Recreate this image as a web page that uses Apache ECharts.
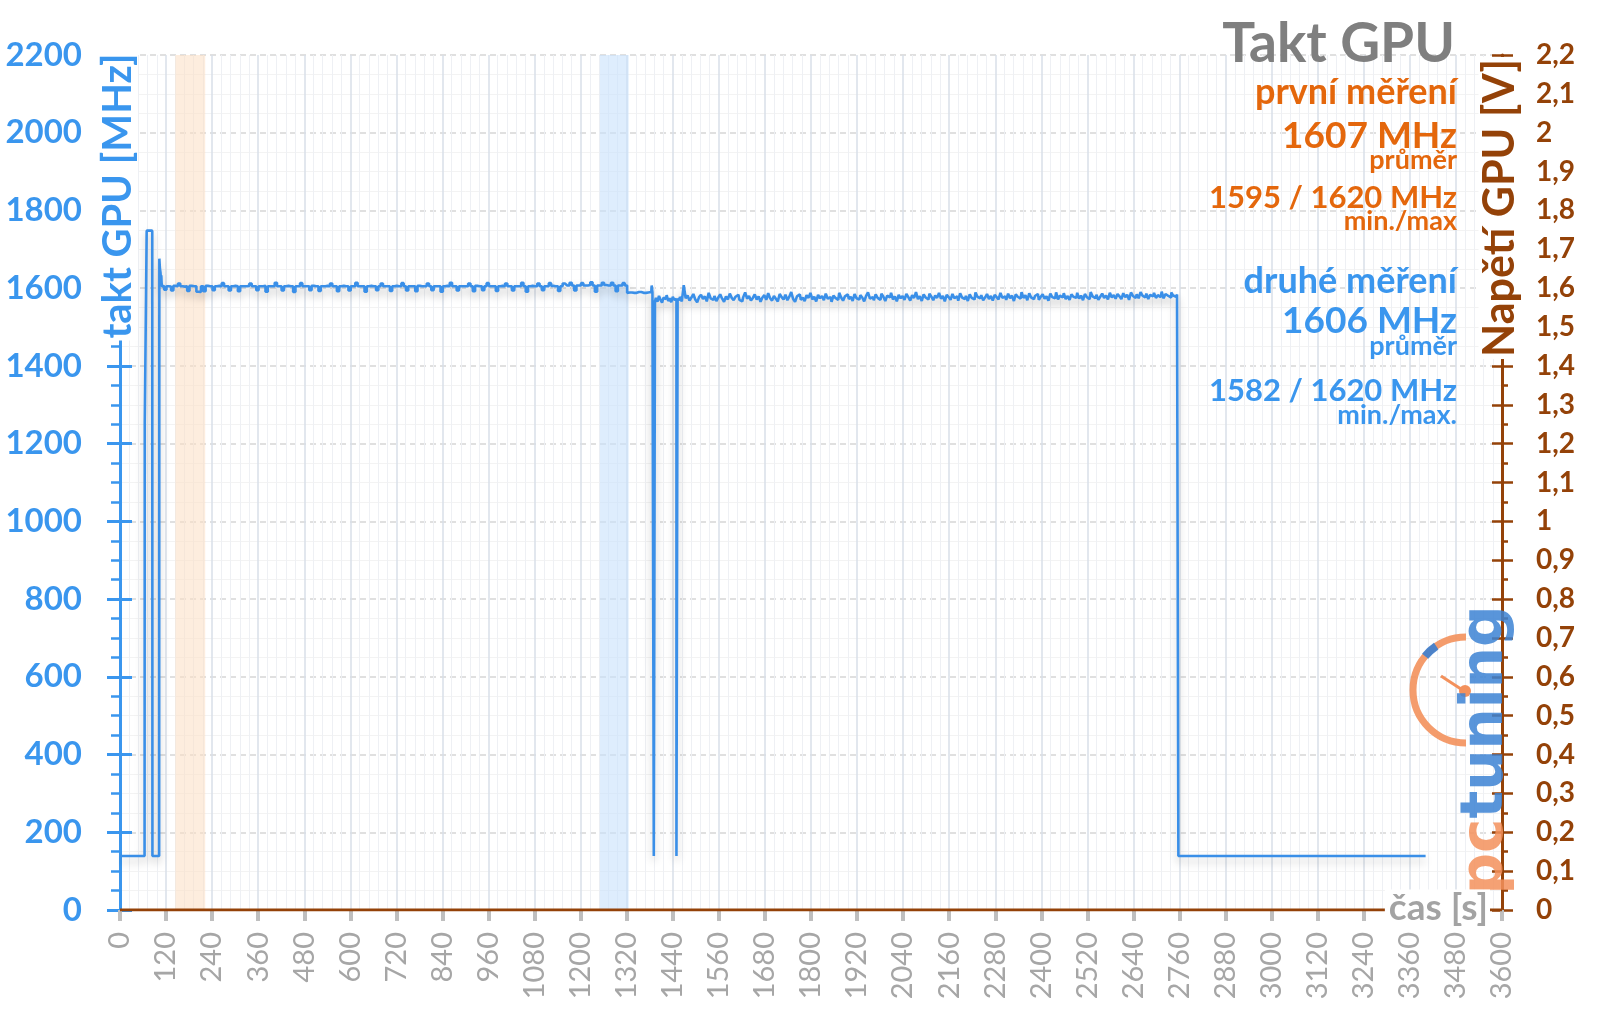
<!DOCTYPE html>
<html><head><meta charset="utf-8">
<script src="https://cdn.jsdelivr.net/npm/echarts@6/dist/echarts.min.js"></script>
<style>html,body{margin:0;padding:0;background:#fff}#c{width:1600px;height:1009px}</style>
</head><body><div id="c"></div>
<script>
// ---- data (time in s, clock in MHz) ----
const startTimes  = [0, 64, 65, 69, 70, 84, 85, 102, 103, 105, 106, 107, 108, 109, 110];
const startValues = [139, 139, 1253, 1253, 1748, 1748, 139, 139, 1676, 1650, 1640, 1622, 1633, 1612, 1604];

// first plateau, sampled every 6 s from 112 s
const plateauAStart = 112, plateauAStep = 6;
const plateauAValues = [
 1606,1596,1605,1604,1594,1606,1605,1612,1605,1604,
 1605,1593,1606,1605,1605,1591,1590,1605,1592,1606,
 1605,1605,1595,1605,1606,1605,1613,1605,1605,1594,
 1605,1606,1605,1592,1605,1605,1605,1606,1612,1605,
 1605,1595,1605,1605,1606,1591,1605,1605,1605,1614,
 1605,1605,1594,1605,1606,1605,1605,1590,1605,1605,
 1613,1605,1605,1605,1595,1606,1605,1605,1593,1605,
 1605,1606,1605,1612,1605,1605,1592,1605,1606,1605,
 1605,1594,1605,1605,1614,1605,1605,1605,1591,1605,
 1606,1605,1605,1595,1605,1612,1605,1605,1605,1593,
 1605,1606,1605,1605,1613,1605,1594,1605,1605,1605,
 1592,1606,1605,1605,1605,1612,1605,1595,1605,1605,
 1605,1591,1605,1606,1605,1614,1605,1605,1594,1605,
 1605,1605,1605,1612,1605,1592,1606,1605,1605,1595,
 1605,1613,1605,1605,1605,1593,1605,1606,1605,1612,
 1605,1605,1594,1605,1605,1605,1614,1605,1591,1605,
 1606,1605,1605,1612,1605,1595,1605,1605,1613,1606,
 1605,1605,1593,1605,1612,1607,1607,1614,1607,1594,
 1607,1607,1613,1607,1607,1608,1615,1607,1591,1607,
 1607,1614,1608,1607,1607,1614,1607,1592,1607,1607,
 1613,1607,1588
];

// transition with the two short drops
const transTimes  = [1328,1340,1352,1364,1376,1384,1386,1388,1390,1391,1393,1394,
                     1398,1402,1406,1410,1414,1418,1422,1426,1430,1434,1438,1442,1446,1449,1450,1452,1453];
const transValues = [1589,1588,1590,1588,1589,1590,1607,1590,1585,139,139,1566,
                     1575,1565,1580,1570,1563,1576,1572,1582,1567,1574,1564,1578,1570,1572,139,139,1572];

// second plateau, sampled every 5 s from 1456 s
const plateauBStart = 1456, plateauBStep = 5;
const plateauBValues = [
 1570,1578,1566,1608,1574,1581,1568,1576,1585,1571,
 1564,1577,1583,1572,1579,1566,1588,1574,1570,1580,
 1567,1576,1584,1573,1565,1579,1571,1586,1575,1569,
 1578,1583,1570,1566,1577,1589,1573,1580,1568,1575,
 1584,1571,1579,1565,1576,1582,1570,1587,1574,1568,
 1580,1573,1566,1585,1577,1571,1583,1569,1578,1590,
 1572,1565,1579,1584,1570,1576,1567,1582,1575,1588,
 1571,1578,1566,1583,1574,1580,1569,1586,1573,1577,
 1565,1581,1575,1570,1588,1576,1568,1579,1584,1572,
 1578,1567,1585,1574,1571,1582,1576,1566,1580,1589,
 1573,1577,1569,1584,1575,1570,1586,1578,1567,1581,
 1576,1588,1571,1579,1566,1583,1574,1580,1570,1585,
 1577,1568,1582,1575,1590,1572,1579,1567,1584,1576,
 1571,1586,1578,1569,1581,1575,1588,1573,1580,1566,
 1583,1577,1570,1585,1574,1579,1568,1587,1576,1572,
 1580,1567,1584,1575,1571,1589,1578,1574,1582,1569,
 1576,1585,1572,1580,1568,1583,1577,1571,1588,1575,
 1579,1570,1586,1574,1581,1567,1584,1578,1573,1590,
 1575,1582,1569,1587,1576,1572,1580,1585,1570,1578,
 1584,1573,1579,1568,1586,1577,1574,1589,1571,1581,
 1576,1587,1572,1580,1570,1584,1578,1575,1588,1573,
 1581,1569,1585,1577,1572,1590,1579,1574,1583,1570,
 1578,1586,1575,1581,1571,1588,1576,1582,1573,1585,
 1579,1572,1587,1577,1583,1570,1589,1580,1575,1584,
 1574,1590,1581,1576,1586,1572,1583,1579,1588,1575,
 1582,1577,1591,1574,1585,1580,1576,1589,1581,1578,
 1584
];

const endTimes  = [2758, 3401];
const endValues = [139, 139];

const voltTimes  = [0, 3600];
const voltValues = [0, 0];

const bandOrange = [144, 222];
const bandBlue   = [1250, 1325];

const xMin = 0, xMax = 3600, xInterval = 120;
const yMin = 0, yMax = 2200, yInterval = 200;
const vMin = 0, vMax = 2.2, vInterval = 0.1;

// ---- build series table ----
const clockData = [];
startTimes.forEach((t, i) => clockData.push([t, startValues[i]]));
plateauAValues.forEach((v, i) => clockData.push([plateauAStart + i * plateauAStep, v]));
transTimes.forEach((t, i) => clockData.push([t, transValues[i]]));
plateauBValues.forEach((v, i) => clockData.push([plateauBStart + i * plateauBStep, v]));
endTimes.forEach((t, i) => clockData.push([t, endValues[i]]));
const voltData = voltTimes.map((t, i) => [t, voltValues[i]]);

const BLUE = '#3a96ee', LINE = '#3a8fe8', ORANGE = '#e4670c', BROWN = '#944208', GREY = '#7f7f7f', LGREY = '#a6a6a6';
const FONT = 'Lato, "Open Sans", sans-serif';

const chart = echarts.init(document.getElementById('c'), null, {renderer: 'canvas'});

function txt(text, x, y, size, color, extra) {
  return Object.assign({
    type: 'text', x: x, y: y, z: 100,
    style: { text: text, fill: color, font: 'bold ' + size + 'px ' + FONT, textAlign: 'right', textVerticalAlign: 'middle' }
  }, extra || {});
}
const plain = v => String(Math.round(v));

const option = {
  animation: false,
  backgroundColor: '#fff',
  grid: { left: 120, right: 98, top: 55, bottom: 99 },
  xAxis: {
    type: 'value', min: xMin, max: xMax, interval: xInterval,
    axisLine: { show: true, lineStyle: { color: '#bfbfbf', width: 2 } },
    axisTick: { show: true, length: 11, lineStyle: { color: '#bfbfbf', width: 4 } },
    axisLabel: { rotate: 90, margin: 22, color: LGREY, fontSize: 29, fontFamily: FONT, formatter: plain },
    splitLine: { show: true, lineStyle: { color: '#d9dfe9', width: 1.5 } },
    minorTick: { show: false, splitNumber: 5 },
    minorSplitLine: { show: true, lineStyle: { color: '#eef0f4', width: 1 } }
  },
  yAxis: [
    {
      type: 'value', position: 'left', min: yMin, max: yMax, interval: yInterval,
      axisLine: { show: true, lineStyle: { color: BLUE, width: 3 } },
      axisTick: { show: true, length: 13, lineStyle: { color: BLUE, width: 3 } },
      minorTick: { show: true, splitNumber: 4, length: 9, lineStyle: { color: BLUE, width: 2.5 } },
      axisLabel: { margin: 38, color: BLUE, fontSize: 33, fontWeight: 'bold', fontFamily: FONT, formatter: plain },
      splitLine: { show: true, lineStyle: { color: '#d6d6d6', width: 1.5, type: [6, 4] } },
      minorSplitLine: { show: true, lineStyle: { color: '#f3f3f3', width: 1 } }
    },
    {
      type: 'value', position: 'right', min: vMin, max: vMax, interval: vInterval,
      axisLine: { show: true, lineStyle: { color: BROWN, width: 3 } },
      axisTick: { show: true, length: 11, lineStyle: { color: BROWN, width: 2.5 } },
      minorTick: { show: true, splitNumber: 2, length: 6, lineStyle: { color: BROWN, width: 2.5 } },
      axisLabel: { margin: 34, color: BROWN, fontSize: 28, fontWeight: 'bold', fontFamily: FONT,
        formatter: v => String(Math.round(v * 10) / 10).replace('.', ',') },
      splitLine: { show: false }
    },
    {
      type: 'value', position: 'left', min: yMin, max: yMax, interval: yInterval,
      axisLine: { show: false }, axisLabel: { show: false }, splitLine: { show: false },
      axisTick: { show: true, inside: true, length: 12, lineStyle: { color: BLUE, width: 3 } }
    },
    {
      type: 'value', position: 'right', min: vMin, max: vMax, interval: vInterval,
      axisLine: { show: false }, axisLabel: { show: false }, splitLine: { show: false },
      axisTick: { show: true, inside: true, length: 10, lineStyle: { color: BROWN, width: 2.5 } }
    }
  ],
  series: [
    {
      name: 'takt GPU', type: 'line', yAxisIndex: 0, data: clockData, step: 'middle',
      showSymbol: false, symbol: 'none', z: 5,
      lineStyle: { color: LINE, width: 2.6, shadowColor: 'rgba(0,0,0,0.22)', shadowBlur: 8, shadowOffsetY: 5 },
      markArea: {
        silent: true,
        data: [
          [{ xAxis: bandOrange[0], itemStyle: { color: 'rgba(252,222,194,0.55)' } }, { xAxis: bandOrange[1] }],
          [{ xAxis: bandBlue[0], itemStyle: { color: 'rgba(200,225,252,0.6)' } }, { xAxis: bandBlue[1] }]
        ]
      }
    },
    {
      name: 'Napětí GPU', type: 'line', yAxisIndex: 1, data: voltData,
      showSymbol: false, symbol: 'none', z: 6,
      lineStyle: { color: BROWN, width: 3 }
    }
  ],
  graphic: [
    // logo
    { type: 'arc', z: 50, shape: { cx: 1466, cy: 690, r: 53, startAngle: Math.PI / 2, endAngle: Math.PI * 1.5, clockwise: true },
      style: { stroke: '#f3915c', lineWidth: 7, fill: null, opacity: 0.9 } },
    { type: 'arc', z: 51, shape: { cx: 1466, cy: 690, r: 53, startAngle: Math.PI * 1.22, endAngle: Math.PI * 1.31, clockwise: true },
      style: { stroke: '#3b7fd2', lineWidth: 8, fill: null, opacity: 0.9 } },
    { type: 'line', z: 51, shape: { x1: 1441, y1: 676, x2: 1464, y2: 691 }, style: { stroke: '#f3915c', lineWidth: 3 } },
    { type: 'circle', z: 51, shape: { cx: 1465, cy: 691, r: 6 }, style: { fill: '#f3915c' } },
    { type: 'text', z: 52, x: 1487, y: 750, rotation: Math.PI / 2,
      style: { text: '{o|pc}{b|tuning}', textAlign: 'center', textVerticalAlign: 'middle', opacity: 0.85,
        rich: { o: { fill: '#f3915c', font: 'bold 58px "DejaVu Sans", sans-serif' },
                b: { fill: '#3c82d4', font: 'bold 58px "DejaVu Sans", sans-serif' } } } },
    // axis names
    { type: 'text', z: 60, x: 118, y: 196, rotation: Math.PI / 2,
      style: { text: 'takt GPU [MHz]', fill: BLUE, font: 'bold 40px ' + FONT, textAlign: 'center', textVerticalAlign: 'middle',
        backgroundColor: '#fff', padding: [0, 2, 0, 2] } },
    { type: 'text', z: 60, x: 1500, y: 208, rotation: Math.PI / 2,
      style: { text: 'Napětí GPU [V]', fill: BROWN, font: 'bold 43px ' + FONT, textAlign: 'center', textVerticalAlign: 'middle',
        backgroundColor: '#fff', padding: [0, 2, 0, 2] } },
    { type: 'text', z: 60, x: 1490, y: 908,
      style: { text: 'čas [s]', fill: '#a3a3a3', font: 'bold 37px ' + FONT, textAlign: 'right', textVerticalAlign: 'middle',
        backgroundColor: '#fff', padding: [0, 2, 0, 4] } },
    // title and stats
    txt('Takt GPU', 1455, 44, 55, GREY),
    txt('první měření', 1457, 92, 36, ORANGE),
    txt('1607 MHz', 1457, 136, 37, ORANGE),
    txt('průměr', 1457, 160, 27, ORANGE),
    txt('1595 / 1620 MHz', 1457, 198, 31, ORANGE),
    txt('min./max', 1457, 221, 27, ORANGE),
    txt('druhé měření', 1457, 281, 36, BLUE),
    txt('1606 MHz', 1457, 321, 37, BLUE),
    txt('průměr', 1457, 346, 27, BLUE),
    txt('1582 / 1620 MHz', 1457, 391, 31, BLUE),
    txt('min./max.', 1457, 415, 27, BLUE)
  ]
};
chart.setOption(option);
</script>
</body></html>
